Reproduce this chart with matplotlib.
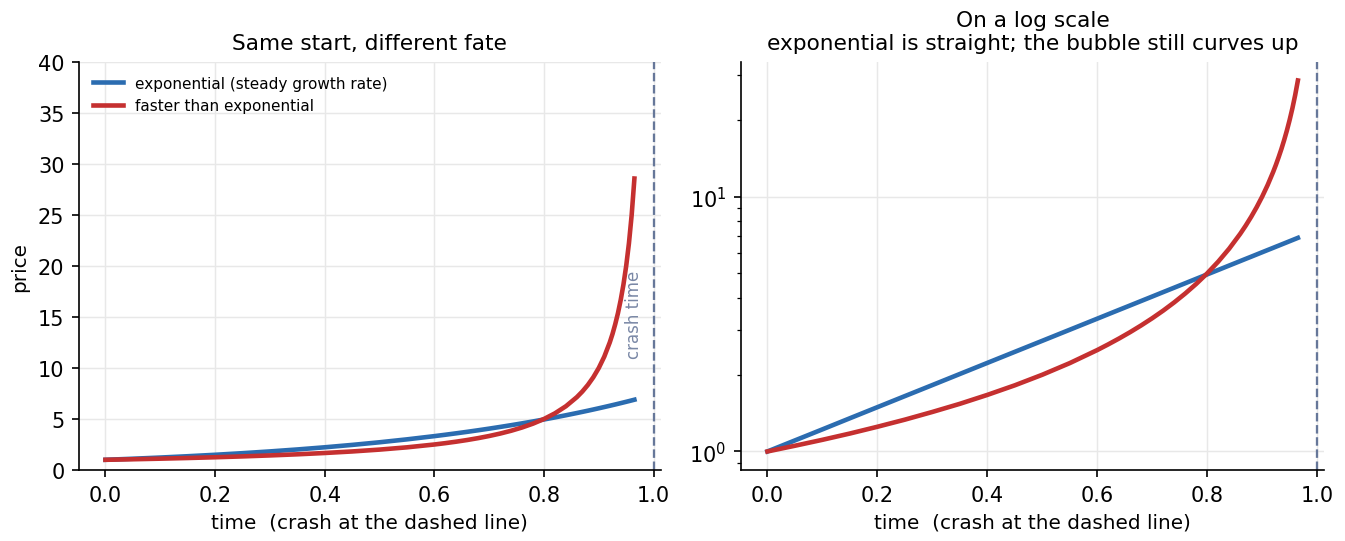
import matplotlib
matplotlib.use("Agg")
import matplotlib.pyplot as plt

# time points and prices
t = [0.00, 0.05, 0.10, 0.15, 0.20, 0.25, 0.30, 0.35, 0.40, 0.45, 0.50,
     0.55, 0.60, 0.62, 0.64, 0.66, 0.68, 0.70, 0.72, 0.74, 0.76, 0.78,
     0.80, 0.82, 0.84, 0.86, 0.87, 0.88, 0.89, 0.90, 0.91, 0.92, 0.925,
     0.93, 0.935, 0.94, 0.945, 0.95, 0.955, 0.96, 0.965]

exponential = [1.000, 1.105, 1.221, 1.350, 1.492, 1.649, 1.822, 2.014, 2.226,
               2.460, 2.718, 3.004, 3.320, 3.456, 3.597, 3.743, 3.896, 4.055,
               4.221, 4.393, 4.572, 4.759, 4.953, 5.155, 5.366, 5.585, 5.698,
               5.812, 5.930, 6.050, 6.172, 6.296, 6.360, 6.423, 6.488, 6.553,
               6.619, 6.686, 6.753, 6.821, 6.890]

bubble = [1.000, 1.053, 1.111, 1.176, 1.250, 1.333, 1.429, 1.538, 1.667,
          1.818, 2.000, 2.222, 2.500, 2.632, 2.778, 2.941, 3.125, 3.333,
          3.571, 3.846, 4.167, 4.545, 5.000, 5.556, 6.250, 7.143, 7.692,
          8.333, 9.091, 10.00, 11.11, 12.50, 13.33, 14.29, 15.38, 16.67,
          18.18, 20.00, 22.22, 25.00, 28.57]

crash_t = 1.0

blue = "#2b6cb0"
red = "#c53030"
slate = "#667799"

fig = plt.figure(figsize=(8.973, 3.613), dpi=150)
ax1 = fig.add_axes([0.0587, 0.131, 0.4323, 0.753])
ax2 = fig.add_axes([0.5505, 0.131, 0.4335, 0.753])

# linear panel
ax1.plot(t, exponential, color=blue, lw=2.2, label="exponential (steady growth rate)")
ax1.plot(t, bubble, color=red, lw=2.2, label="faster than exponential")
ax1.axvline(crash_t, color=slate, ls="--", lw=1.1)
ax1.text(0.98, 11, "crash time", rotation=90, ha="right", va="bottom",
         color="#7a88a6", fontsize=8)
ax1.set_ylim(0, 40)
ax1.set_title("Same start, different fate", fontsize=10.4)
ax1.set_xlabel("time  (crash at the dashed line)", fontsize=9.6)
ax1.set_ylabel("price", fontsize=9.6)
ax1.legend(loc="upper left", frameon=False, fontsize=7.3)

# log panel
ax2.plot(t, exponential, color=blue, lw=2.2)
ax2.plot(t, bubble, color=red, lw=2.2)
ax2.axvline(crash_t, color=slate, ls="--", lw=1.1)
ax2.set_yscale("log")
ax2.set_title("On a log scale\nexponential is straight; the bubble still curves up",
              fontsize=10.4)
ax2.set_xlabel("time  (crash at the dashed line)", fontsize=9.6)

for ax in (ax1, ax2):
    ax.set_xticks([0.0, 0.2, 0.4, 0.6, 0.8, 1.0])
    ax.grid(True, color="#e8e8e8", lw=0.7)
    ax.spines["top"].set_visible(False)
    ax.spines["right"].set_visible(False)
    ax.tick_params(labelsize=10)

fig.savefig("out.png", dpi=150)
